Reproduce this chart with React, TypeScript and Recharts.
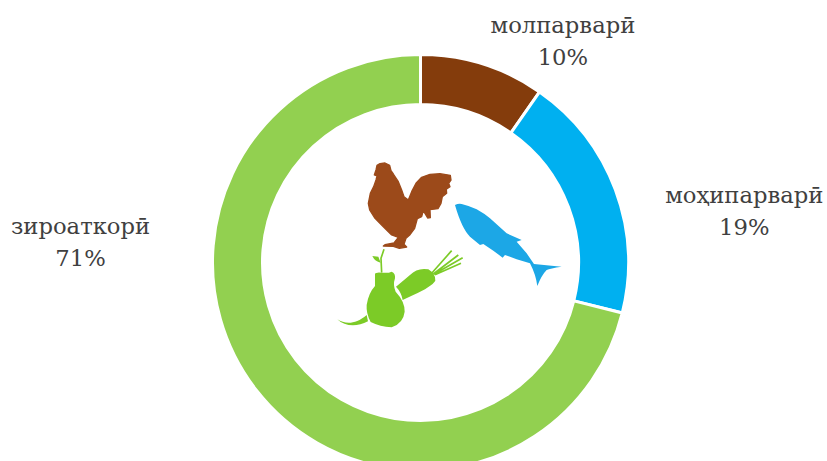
import { PieChart, Pie, Cell } from "recharts"

const categories = ["молпарварӣ", "моҳипарварӣ", "зироаткорӣ"]
const shares = [9.7, 19.2, 71.1]
const colors = ["#843C0C", "#00B0F0", "#92D050"]

const data = categories.map((name, i) => ({ name, value: shares[i] }))

// label centre relative to the ring's outer edge, along the slice's mid angle
const labelNudge = [
  { dx: 80, dy: -15 },
  { dx: 129, dy: 29 },
  { dx: -176, dy: -141 },
]

function sliceLabel(props: any) {
  const { cx, cy, midAngle, outerRadius, index, name, value } = props
  const rad = (midAngle * Math.PI) / 180
  const x = cx + outerRadius * Math.cos(rad) + labelNudge[index].dx
  const y = cy - outerRadius * Math.sin(rad) + labelNudge[index].dy
  return (
    <text
      key={name}
      textAnchor="middle"
      fill="#404040"
      fontFamily="'DejaVu Serif', serif"
      fontSize={22.7}
    >
      <tspan x={x} y={y - 16}>{name}</tspan>
      <tspan x={x} y={y + 16}>{Math.round(value)}%</tspan>
    </text>
  )
}

function Icons() {
  return (
    <g transform="translate(330,150) scale(0.3333)" strokeLinejoin="round">
      <path
        fill="#9C4A1A"
        stroke="#9C4A1A"
        strokeWidth={4}
        d="M133,75 L138,60 L141,46 L150,41 L165,39 L179,46 L183,62 L190,72 L205,95 L215,120 L222,140 L235,150 L245,125 L258,100 L275,82 L300,73 L330,71 L361,76 L363,90 L356,100 L360,110 L349,118 L350,130 L337,140 L333,160 L324,176 L300,179 L301,203 L293,204 L280,182 L275,200 L262,206 L254,235 L240,254 L228,265 L222,283 L230,291 L208,295 L190,289 L160,288 L165,284 L192,279 L205,262 L185,255 L160,230 L135,205 L119,180 L115,160 L121,130 L131,110 L138,90 L141,78 Z"
      />
      <path
        fill="#1CA7E6"
        d="M375,165 Q385,160 395,162 Q420,168 440,178 Q462,190 480,205 L530,250 L575,270 L560,275 L590,310 L612,342 L695,350 Q660,355 650,360 Q635,375 622,408 Q618,375 600,340 L560,328 L525,315 L518,323 L490,302 L460,282 L450,285 L420,260 Q395,235 375,165 Z"
      />
      <g fill="#7CCB27">
        <path d="M135,372 Q137,366 155,368 Q175,370 185,365 Q197,370 195,385 Q188,405 197,425 Q225,455 224,485 Q220,520 185,532 Q150,530 122,516 Q108,490 110,465 Q115,430 135,408 Z" />
        <path d="M198,410 L240,375 Q262,352 295,358 Q318,372 316,392 Q305,410 250,435 L218,450 Q215,428 198,410 Z" />
        <path d="M22,508 C45,522 75,525 110,495 L114,514 C80,532 45,530 22,508 Z" />
        <path d="M127,318 L145,320 L152,338 Q135,335 127,318 Z" />
      </g>
      <g fill="none" stroke="#7CCB27" strokeWidth={5}>
        <path d="M155,368 L153,325 L162,298" />
        <path d="M305,370 L365,302 M310,372 L385,315 M312,373 L398,323 M315,374 L393,340" />
      </g>
    </g>
  )
}

export default function App() {
  return (
    <div style={{ position: "absolute", left: 0, top: 0, width: 827, height: 461, overflow: "hidden" }}>
      <PieChart width={827} height={461} margin={{ top: 0, right: 0, bottom: 0, left: 0 }}>
        <Pie
          data={data}
          dataKey="value"
          nameKey="name"
          cx={420.5}
          cy={262.5}
          innerRadius={158}
          outerRadius={208}
          startAngle={90}
          endAngle={-270}
          stroke="#ffffff"
          strokeWidth={3}
          label={sliceLabel}
          labelLine={false}
          isAnimationActive={false}
        >
          {data.map((_, i) => (
            <Cell key={i} fill={colors[i]} />
          ))}
        </Pie>
        <Icons />
      </PieChart>
    </div>
  )
}
